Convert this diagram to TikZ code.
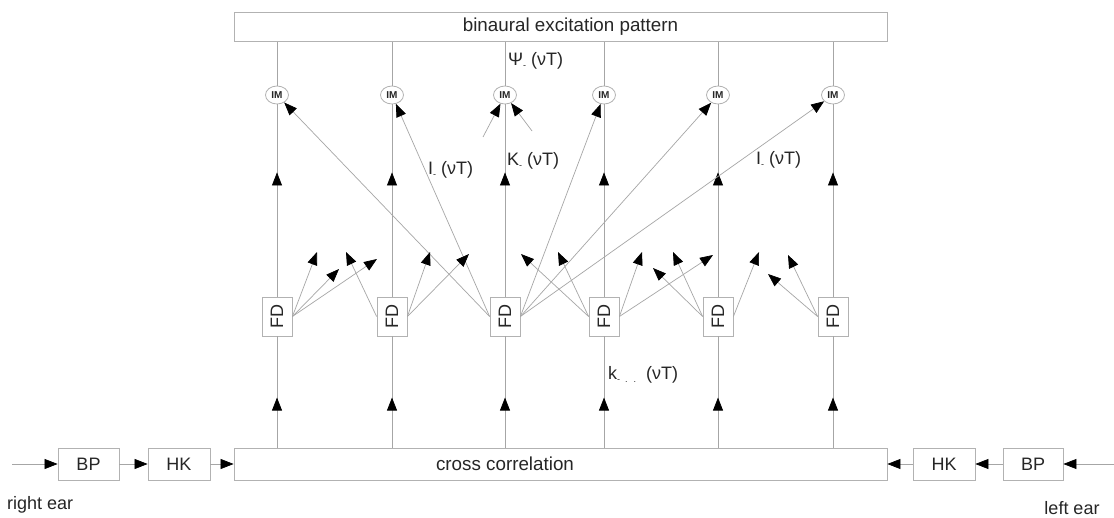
\documentclass[tikz,border=0pt]{standalone}
\usepackage{fontspec}
\setmainfont{Liberation Sans}
\usetikzlibrary{arrows.meta,decorations.markings,shapes.geometric}
\newcommand\lowmark[1]{\raisebox{-3pt}{\fontsize{9}{9}\selectfont #1}}
\begin{document}
\begin{tikzpicture}[x=1pt,y=-1pt,
  box/.style={draw=gray!60, fill=white, line width=0.8pt, inner sep=0pt, text=black!85,
    font=\fontsize{18}{18}\selectfont},
  im/.style={ellipse, draw=gray!60, fill=white, line width=0.8pt, inner sep=0pt,
    minimum width=23pt, minimum height=18pt, text=black!85, font=\fontsize{10}{10}\selectfont\bfseries},
  lbl/.style={text=black!85, font=\fontsize{18}{18}\selectfont, inner sep=0pt},
  ln/.style={draw=gray!70, line width=0.7pt},
  arr/.style={ln, -{Triangle[length=13pt,width=10pt,color=black]}},
  midarr/.style={ln, postaction={decorate}, decoration={markings,
    mark=at position #1 with {\arrow{Triangle[length=13pt,width=10pt,color=black]}}}}
]
\useasboundingbox (0,0) rectangle (1114,518);
\fill[white] (0,0) rectangle (1114,518);

% big boxes
\node[box, minimum width=653pt, minimum height=29pt, font=\fontsize{18.8}{19}\selectfont] (bep) at (560.5,27)
  {\mbox{}\hspace{20pt}binaural excitation pattern};
\node[box, minimum width=653pt, minimum height=32pt, font=\fontsize{18.8}{19}\selectfont] (cc) at (560.5,464)
  {cross correlation\hspace{111pt}\mbox{}};

% input chain
\node[box, minimum width=61pt, minimum height=32pt] (bpl) at (88.5,464) {BP};
\node[box, minimum width=62pt, minimum height=32pt] (hkl) at (179,464) {HK};
\node[box, minimum width=62pt, minimum height=32pt] (hkr) at (944,464) {HK};
\node[box, minimum width=60pt, minimum height=32pt] (bpr) at (1033,464) {BP};
\coordinate (inl) at (12,464);
\coordinate (inr) at (1114,464);
\draw[arr] (inl) -- (bpl.west);
\draw[arr] (bpl.east) -- (hkl.west);
\draw[arr] (hkl.east) -- (cc.west);
\draw[arr] (inr) -- (bpr.east);
\draw[arr] (bpr.west) -- (hkr.east);
\draw[arr] (hkr.west) -- (cc.east);
\node[lbl, anchor=west] (rear) at (7,505) {right ear};
\node[lbl] (lear) at (1072,508) {left ear};

% columns
\foreach \i/\x in {1/277,2/392,3/505,4/604,5/718,6/833} {
  \node[box, minimum width=30pt, minimum height=39pt] (fd\i) at (\x,316.5) {\rotatebox{90}{FD}};
  \node[im] (im\i) at (\x,95) {IM};
}
\foreach \i in {1,...,6} {
  \draw[midarr=0.45] (fd\i |- cc.north) -- (fd\i.south);
  \draw[midarr=0.646] (fd\i.north) -- (im\i.south);
  \draw[ln] (im\i.north) -- (im\i |- bep.south);
}

% long connections from the central FD
\draw[arr] (fd3.west) -- (im1);
\draw[arr] (fd3.west) -- (im2);
\draw[arr] (fd3.east) -- (im4);
\draw[arr] (fd3.east) -- (im5);
\draw[arr] (fd3.east) -- (im6);
\coordinate (k1) at (483,137);
\coordinate (k2) at (532,131);
\draw[arr] (k1) -- (im3);
\draw[arr] (k2) -- (im3);

% short truncated connections
\coordinate (a1) at (317,252);
\coordinate (a2) at (339,269);
\coordinate (a3) at (377,259);
\coordinate (a4) at (346,252);
\coordinate (a5) at (430,252);
\coordinate (a6) at (469,254);
\coordinate (a7) at (558,252);
\coordinate (a8) at (521,254);
\coordinate (a9) at (642,252);
\coordinate (a10) at (713,255);
\coordinate (a11) at (653,268);
\coordinate (a12) at (673,252);
\coordinate (a13) at (759,252);
\coordinate (a14) at (768,274);
\coordinate (a15) at (788,255);
\draw[arr] (fd1.east) -- (a1);
\draw[arr] (fd1.east) -- (a2);
\draw[arr] (fd1.east) -- (a3);
\draw[arr] (fd2.west) -- (a4);
\draw[arr] (fd2.east) -- (a5);
\draw[arr] (fd2.east) -- (a6);
\draw[arr] (fd4.west) -- (a7);
\draw[arr] (fd4.west) -- (a8);
\draw[arr] (fd4.east) -- (a9);
\draw[arr] (fd4.east) -- (a10);
\draw[arr] (fd5.west) -- (a11);
\draw[arr] (fd5.west) -- (a12);
\draw[arr] (fd5.east) -- (a13);
\draw[arr] (fd6.west) -- (a14);
\draw[arr] (fd6.west) -- (a15);

% labels
\node[lbl, anchor=base west] (lpsi) at (508,66) {Ψ\lowmark{-}\ (νT)};
\node[lbl, anchor=base west] (lil) at (428,175) {I\lowmark{-}\ (νT)};
\node[lbl, anchor=base west] (lk) at (507,166) {K\lowmark{-}\ (νT)};
\node[lbl, anchor=base west] (lir) at (756,165) {I\lowmark{-}\ (νT)};
\node[lbl, anchor=base west] (lks) at (608,380) {k\lowmark{- \ . \ .}\ \ (νT)};
\end{tikzpicture}
\end{document}
